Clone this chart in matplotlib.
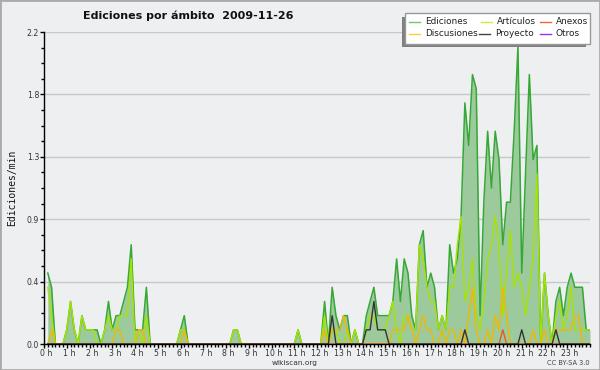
import matplotlib
matplotlib.use("Agg")
import matplotlib.pyplot as plt
import matplotlib.transforms as mtransforms
import numpy as np
from matplotlib.patches import Rectangle
from matplotlib.lines import Line2D

title = "Ediciones por ámbito  2009-11-26"
ylabel = "Ediciones/min"
hour_labels = [f"{h} h" for h in range(24)]
minutes = list(range(10, 1441, 10))  # 10-minute bins

series_names = ["Ediciones", "Discusiones", "Artículos", "Proyecto", "Anexos", "Otros"]

ediciones = [
    0.5, 0.4, 0, 0, 0, 0.1,
    0.3, 0.1, 0, 0.2, 0.1, 0.1,
    0.1, 0.1, 0, 0.1, 0.3, 0.1,
    0.2, 0.2, 0.3, 0.4, 0.7, 0.1,
    0.1, 0.1, 0.4, 0, 0, 0,
    0, 0, 0, 0, 0, 0.1,
    0.2, 0, 0, 0, 0, 0,
    0, 0, 0, 0, 0, 0,
    0, 0.1, 0.1, 0, 0, 0,
    0, 0, 0, 0, 0, 0,
    0, 0, 0, 0, 0, 0,
    0.1, 0, 0, 0, 0, 0,
    0, 0.3, 0, 0.4, 0.2, 0.1,
    0.2, 0.2, 0, 0.1, 0, 0,
    0.2, 0.3, 0.4, 0.2, 0.2, 0.2,
    0.2, 0.3, 0.6, 0.3, 0.6, 0.5,
    0.2, 0.1, 0.7, 0.8, 0.4, 0.5,
    0.4, 0.1, 0.2, 0.1, 0.7, 0.5,
    0.6, 0.9, 1.7, 1.4, 1.9, 1.8,
    0.2, 1.0, 1.5, 1.1, 1.5, 1.3,
    0.7, 1.0, 1.0, 1.5, 2.1, 0.5,
    1.2, 1.9, 1.3, 1.4, 0, 0.5,
    0.2, 0, 0.3, 0.4, 0.2, 0.4,
    0.5, 0.4, 0.4, 0.4, 0.1, 0.1,
]

articulos = [
    0.4, 0.2, 0, 0, 0, 0.1,
    0.3, 0.1, 0, 0.2, 0.1, 0.1,
    0.1, 0, 0, 0.1, 0.2, 0.1,
    0.1, 0.2, 0.2, 0.2, 0.6, 0,
    0.1, 0, 0.2, 0, 0, 0,
    0, 0, 0, 0, 0, 0.1,
    0.1, 0, 0, 0, 0, 0,
    0, 0, 0, 0, 0, 0,
    0, 0.1, 0.1, 0, 0, 0,
    0, 0, 0, 0, 0, 0,
    0, 0, 0, 0, 0, 0,
    0.1, 0, 0, 0, 0, 0,
    0, 0.2, 0, 0.1, 0.1, 0,
    0, 0.1, 0, 0.1, 0, 0,
    0.1, 0.2, 0.2, 0.1, 0.1, 0.1,
    0.2, 0.3, 0.1, 0, 0.2, 0.2,
    0.1, 0.1, 0.7, 0.6, 0.4, 0.3,
    0.3, 0.1, 0.2, 0.1, 0.4, 0.4,
    0.7, 0.9, 0.3, 0.4, 0.6, 0.2,
    0.1, 0.3, 0.6, 0.7, 0.9, 0.7,
    0.2, 0.5, 0.8, 0.4, 0.5, 0.4,
    0.2, 0.4, 0.6, 1.2, 0, 0.5,
    0.2, 0, 0.2, 0.3, 0.1, 0.2,
    0.4, 0.1, 0.1, 0.1, 0.1, 0.1,
]

discusiones = [
    0, 0.1, 0, 0, 0, 0,
    0, 0, 0, 0, 0, 0,
    0, 0, 0, 0, 0, 0,
    0.1, 0.1, 0, 0, 0, 0,
    0.1, 0.1, 0, 0, 0, 0,
    0, 0, 0, 0, 0, 0,
    0.1, 0, 0, 0, 0, 0,
    0, 0, 0, 0, 0, 0,
    0, 0, 0, 0, 0, 0,
    0, 0, 0, 0, 0, 0,
    0, 0, 0, 0, 0, 0,
    0, 0, 0, 0, 0, 0,
    0, 0.1, 0, 0.1, 0.1, 0.1,
    0.2, 0.1, 0, 0, 0, 0,
    0, 0, 0, 0, 0, 0,
    0, 0.1, 0.1, 0.1, 0.1, 0.2,
    0.1, 0, 0.1, 0.2, 0.1, 0.1,
    0, 0, 0.1, 0, 0.1, 0.1,
    0, 0.1, 0, 0.2, 0.4, 0.1,
    0, 0, 0.1, 0, 0.2, 0.1,
    0.4, 0.2, 0, 0, 0, 0,
    0, 0, 0.1, 0, 0, 0.1,
    0, 0, 0.1, 0.1, 0.1, 0.1,
    0.1, 0.2, 0.2, 0, 0, 0,
]

proyecto = [
    0, 0, 0, 0, 0, 0,
    0, 0, 0, 0, 0, 0,
    0, 0, 0, 0, 0, 0,
    0, 0, 0, 0, 0, 0,
    0, 0, 0, 0, 0, 0,
    0, 0, 0, 0, 0, 0,
    0, 0, 0, 0, 0, 0,
    0, 0, 0, 0, 0, 0,
    0, 0, 0, 0, 0, 0,
    0, 0, 0, 0, 0, 0,
    0, 0, 0, 0, 0, 0,
    0, 0, 0, 0, 0, 0,
    0, 0, 0, 0.2, 0, 0,
    0, 0, 0, 0, 0, 0,
    0.1, 0.1, 0.3, 0.1, 0.1, 0.1,
    0, 0, 0, 0, 0, 0,
    0, 0, 0, 0, 0, 0,
    0, 0, 0, 0, 0, 0,
    0, 0, 0.1, 0, 0, 0,
    0, 0, 0, 0, 0, 0,
    0, 0, 0, 0, 0, 0.1,
    0, 0, 0, 0, 0, 0,
    0, 0, 0.1, 0, 0, 0,
    0, 0, 0, 0, 0, 0,
]

anexos = [0] * 120 + [0.1] + [0] * 23
otros = [0] * 144

BG = "#eeeff0"
C_ED_LINE = "#36a836"
C_ED_FILL = "#9dca9d"
C_ART = "#a6e400"
C_DISC = "#f0b800"
C_PROY = "#333333"
C_ANEX = "#ee5522"
C_OTROS = "#9933ee"

W, H = 600, 370
fig = plt.figure(figsize=(W / 100, H / 100), dpi=100)
fig.patch.set_facecolor(BG)


def fx(x):
    return x / W


def fy(y):
    return 1 - y / H


ax = fig.add_axes([fx(44), fy(344), (590 - 44) / W, (344 - 32) / H])
ax.set_facecolor(BG)

ax.fill_between(minutes, ediciones, 0, color=C_ED_FILL, lw=0, zorder=2)
ax.plot(minutes, ediciones, color=C_ED_LINE, lw=1.1, zorder=3)
ax.plot(minutes, articulos, color=C_ART, lw=1.0, zorder=4)
ax.plot(minutes, discusiones, color=C_DISC, lw=1.0, zorder=4)
ax.plot(minutes, anexos, color=C_ANEX, lw=1.0, zorder=5)
ax.plot(minutes, proyecto, color=C_PROY, lw=1.0, zorder=5)
ax.plot(minutes, otros, color=C_OTROS, lw=1.0, zorder=1, alpha=0)

ax.set_xlim(0, 1440)
ax.set_ylim(0, 2.2)

yt = np.linspace(0, 2.2, 6)
ax.set_yticks(yt)
ax.set_yticklabels([f"{v:.1f}" for v in yt])
ax.set_yticks(np.linspace(0, 2.2, 21), minor=True)
ax.set_xticks(np.arange(0, 1440, 60))
ax.set_xticklabels(hour_labels)
ax.set_xticks(np.arange(0, 1441, 10), minor=True)

ax.yaxis.grid(True, which="major", color="#c8c8c8", lw=1)
ax.set_axisbelow(True)
for s in ["top", "right"]:
    ax.spines[s].set_visible(False)
for s in ["left", "bottom"]:
    ax.spines[s].set_color("black")
    ax.spines[s].set_linewidth(1.0)
    ax.spines[s].set_zorder(6)

ax.tick_params(axis="both", which="major", length=3, width=1, color="black",
               labelsize=5.6, labelcolor="#333333", pad=0.6)
ax.tick_params(axis="both", which="minor", length=2.5, width=1, color="black")

shift = mtransforms.ScaledTranslation(0.025, 0, fig.dpi_scale_trans)
for lbl in ax.get_xticklabels():
    lbl.set_transform(lbl.get_transform() + shift)

fig.text(fx(188), fy(16), title, ha="center", va="center", fontsize=8,
         fontweight="bold", color="#111111")
fig.text(fx(12), fy(188), ylabel, rotation=90, ha="center", va="center",
         fontsize=7, family="DejaVu Sans Mono", color="#111111")
fig.text(fx(295), fy(363), "wikiscan.org", ha="center", va="center",
         fontsize=5.3, color="#333333")
fig.text(fx(590), fy(363), "CC BY-SA 3.0", ha="right", va="center",
         fontsize=4.8, color="#444444")

# legend (manual)
fig.add_artist(Rectangle((fx(402), fy(47)), (586 - 402) / W, (47 - 17) / H,
                         transform=fig.transFigure, facecolor="#808080",
                         edgecolor="none", zorder=10))
fig.add_artist(Rectangle((fx(405), fy(44)), (590 - 405) / W, (44 - 13) / H,
                         transform=fig.transFigure, facecolor="white",
                         edgecolor="#999999", lw=1, zorder=11))
leg_items = [
    ("Ediciones", "#66cc66", 409, 22),
    ("Discusiones", "#ffcc33", 409, 34),
    ("Artículos", "#ccee44", 481, 22),
    ("Proyecto", "#444444", 479, 34),
    ("Anexos", "#ee6633", 540, 22),
    ("Otros", "#9933ee", 540, 34),
]
for name, col, x0, yy in leg_items:
    fig.add_artist(Line2D([fx(x0), fx(x0 + 11)], [fy(yy), fy(yy)],
                          transform=fig.transFigure, color=col, lw=1, zorder=12))
    fig.text(fx(x0 + 16), fy(yy), name, ha="left", va="center", fontsize=6.4,
             color="#222222", zorder=12)

fig.add_artist(Rectangle((0, 0), 1, 1, transform=fig.transFigure, fill=False,
                         edgecolor="#aaaaaa", lw=2, zorder=20))

fig.savefig("out.png", dpi=100, facecolor=BG)
